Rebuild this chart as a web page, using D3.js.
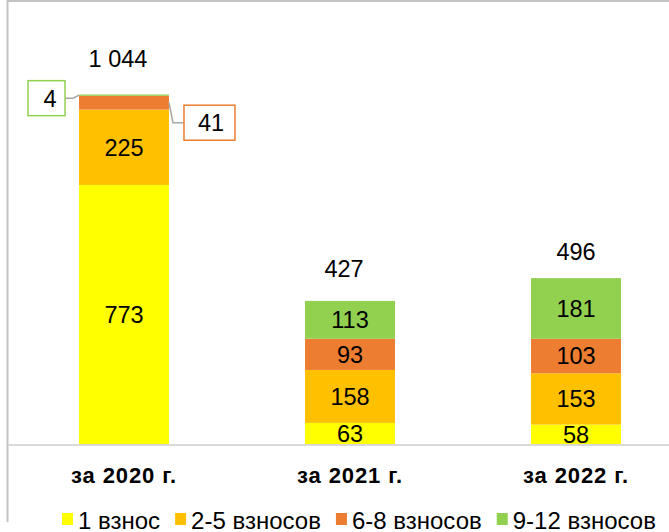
<!DOCTYPE html>
<html lang="ru">
<head>
<meta charset="utf-8">
<title>Взносы по годам</title>
<script src="https://d3js.org/d3.v7.min.js"></script>
<style>
  body { margin: 0; background: #fff; }
  svg { display: block; font-family: "Liberation Sans", Arial, sans-serif; }
  .val { font-size: 23.5px; fill: #000; }
  .cat { font-size: 22px; font-weight: bold; fill: #000; letter-spacing: 0.9px; }
  .leg { font-size: 24px; fill: #000; }
</style>
</head>
<body>
<script>
// data
const categories = ["за 2020 г.", "за 2021 г.", "за 2022 г."];
const seriesNames = ["1 взнос", "2-5 взносов", "6-8 взносов", "9-12 взносов"];
const colors = ["#ffff00", "#ffc000", "#ed7d31", "#92d050"];
const s1 = [773, 63, 58];
const s2_5 = [225, 158, 153];
const s6_8 = [41, 93, 103];
const s9_12 = [4, 113, 181];
const totalLabels = ["1 044", "427", "496"];

const w = 669, h = 532;
const baseY = 444;
// gap between bar top and centre of the total label
const totalGap = [36, 32, 27];

const svg = d3.select("body").append("svg")
    .attr("width", w)
    .attr("height", h);

// frame (cropped)
svg.append("line").attr("x1", 7.5).attr("x2", w).attr("y1", 1).attr("y2", 1)
   .attr("stroke", "#c4c4c4").attr("stroke-width", 2);
svg.append("line").attr("x1", 7.5).attr("x2", 7.5).attr("y1", 0).attr("y2", 522)
   .attr("stroke", "#c4c4c4").attr("stroke-width", 2);

const rows = categories.map((c, i) => ({
    cat: c,
    s0: s1[i], s1: s2_5[i], s2: s6_8[i], s3: s9_12[i]
}));
const keys = ["s0", "s1", "s2", "s3"];
const stacked = d3.stack().keys(keys)(rows);
const totals = rows.map(r => r.s0 + r.s1 + r.s2 + r.s3);

const x = d3.scaleBand()
    .domain(categories)
    .range([11, 689])
    .paddingInner(0.602)
    .paddingOuter(0.301);

const y = d3.scaleLinear()
    .domain([0, d3.max(totals)])
    .range([baseY, 94.5]);

// bars
const layers = svg.append("g").selectAll("g")
    .data(stacked)
    .join("g")
    .attr("fill", (d, i) => colors[i]);

layers.selectAll("rect")
    .data(d => d)
    .join("rect")
    .attr("x", d => x(d.data.cat))
    .attr("width", x.bandwidth())
    .attr("y", d => y(d[1]))
    .attr("height", d => y(d[0]) - y(d[1]));

// axis line
svg.append("line")
    .attr("x1", 8).attr("x2", w)
    .attr("y1", baseY + 1).attr("y2", baseY + 1)
    .attr("stroke", "#d9d9d9").attr("stroke-width", 2);

// segment labels (inside), small 2020 segments get callouts
stacked.forEach((layer, li) => {
    layer.forEach((d, ci) => {
        if (ci === 0 && li >= 2) return;
        svg.append("text")
            .attr("class", "val")
            .attr("x", x(d.data.cat) + x.bandwidth() / 2)
            .attr("y", (y(d[0]) + y(d[1])) / 2)
            .attr("dy", "0.36em")
            .attr("text-anchor", "middle")
            .text(d[1] - d[0]);
    });
});

// callouts for 2020 small segments
const c0 = categories[0];
const x0 = x(c0), x1 = x(c0) + x.bandwidth();
const g41 = stacked[2][0], g4 = stacked[3][0];

// "4" callout (left)
const y4 = (y(g4[0]) + y(g4[1])) / 2;
svg.append("polyline")
    .attr("points", `${x0},${y4} ${x0 - 6},${y4 + 3} ${x0 - 14},${y4 + 3}`)
    .attr("fill", "none").attr("stroke", "#a6a6a6").attr("stroke-width", 1.5);
svg.append("rect")
    .attr("x", x0 - 51).attr("y", y4 - 14.5)
    .attr("width", 37).attr("height", 35)
    .attr("fill", "#fff").attr("stroke", colors[3]).attr("stroke-width", 1.5);
svg.append("text").attr("class", "val")
    .attr("x", x0 - 29).attr("y", y4 + 3).attr("dy", "0.36em")
    .attr("text-anchor", "middle").text(g4[1] - g4[0]);

// "41" callout (right)
const y41 = (y(g41[0]) + y(g41[1])) / 2;
svg.append("polyline")
    .attr("points", `${x1},${y41} ${x1 + 4},${y41 + 20} ${x1 + 15},${y41 + 20}`)
    .attr("fill", "none").attr("stroke", "#a6a6a6").attr("stroke-width", 1.5);
svg.append("rect")
    .attr("x", x1 + 15).attr("y", y41 + 2.5)
    .attr("width", 51).attr("height", 35)
    .attr("fill", "#fff").attr("stroke", colors[2]).attr("stroke-width", 1.5);
svg.append("text").attr("class", "val")
    .attr("x", x1 + 42).attr("y", y41 + 20).attr("dy", "0.36em")
    .attr("text-anchor", "middle").text(g41[1] - g41[0]);

// totals above bars
svg.append("g").selectAll("text")
    .data(categories)
    .join("text")
    .attr("class", "val")
    .attr("x", (d, i) => x(d) + x.bandwidth() / 2 - (i < 2 ? 6 : 0))
    .attr("y", (d, i) => y(totals[i]) - totalGap[i])
    .attr("dy", "0.36em")
    .attr("text-anchor", "middle")
    .text((d, i) => totalLabels[i]);

// category labels
svg.append("g").selectAll("text")
    .data(categories)
    .join("text")
    .attr("class", "cat")
    .attr("x", d => x(d) + x.bandwidth() / 2)
    .attr("y", 483)
    .attr("text-anchor", "middle")
    .text(d => d);

// legend
const leg = svg.append("g");
let lx = 62;
seriesNames.forEach((name, i) => {
    leg.append("rect")
        .attr("x", lx).attr("y", 513)
        .attr("width", 11).attr("height", 12)
        .attr("fill", colors[i]);
    const t = leg.append("text")
        .attr("class", "leg")
        .attr("x", lx + 16).attr("y", 529)
        .text(name);
    lx += 16 + t.node().getComputedTextLength() + 15;
});
</script>
</body>
</html>
